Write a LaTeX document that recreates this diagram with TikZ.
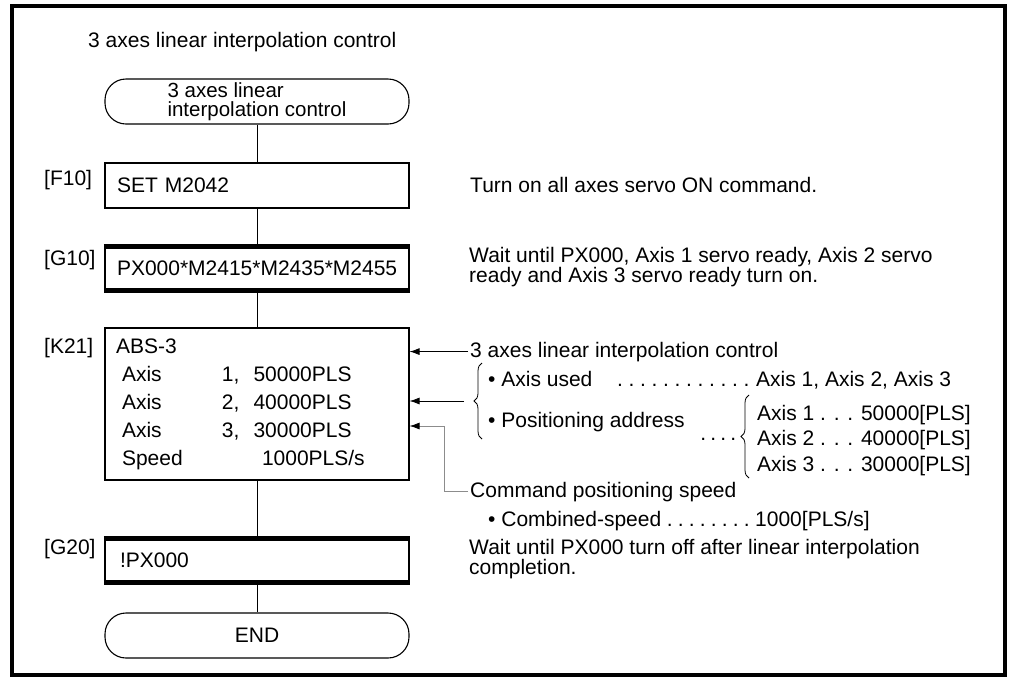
\documentclass[tikz,border=0pt]{standalone}
\usepackage{fontspec}
\setmainfont{Liberation Sans}
\usetikzlibrary{arrows.meta,decorations.pathreplacing,calc}
\newcommand{\bigtxt}{\fontsize{21}{20}\selectfont\lineskiplimit=-30pt\relax}
\newcommand{\dotrun}[2]{\hbox to #1{\leaders\hbox to #2{\hss.\hss}\hfill}}
\begin{document}
\begin{tikzpicture}[x=1pt,y=-1pt,
  every node/.style={inner sep=0pt},
  txt/.style={font=\bigtxt,align=left},
  flowbox/.style={draw,line width=1.1pt,minimum width=304pt,font=\bigtxt,align=left,inner ysep=0pt},
  term/.style={draw,line width=1.1pt,rounded corners=21pt,minimum width=304pt,minimum height=45pt,align=left},
  flow/.style={line width=0.8pt},
  arr/.style={line width=0.8pt,-{Latex[length=10pt,width=7pt]}},
  garr/.style={line width=0.8pt,draw=black!45,-{Latex[length=10pt,width=7pt,color=black]}},
  brc/.style={decorate,decoration={brace,amplitude=8pt},line width=0.8pt},
  bar/.style={line width=5pt}
]
\useasboundingbox (0,0) rectangle (1009,678);
\draw[line width=3.6pt] (12,6) rectangle (1005,675);

\node[txt,anchor=base west] (title) at (88,47) {3 axes linear interpolation control};

% flow chart
\node[term,font={\fontsize{20.5}{19.5}\selectfont\lineskiplimit=-30pt}] (start) at (257,101.5) {3 axes linear\\interpolation control};
\node[flowbox,minimum height=45pt,text width=280pt,inner xsep=12pt] (f10) at (257,185.5) {SET M2042};
\node[flowbox,minimum height=47pt,text width=280pt,inner xsep=12pt] (g10) at (257,268.5) {PX000*M2415*M2435*M2455};
\node[flowbox,minimum height=152pt,text width=282pt,inner xsep=11pt,font={\fontsize{21}{28}\selectfont}] (k21) at (257,404)
  {ABS-3\\
   \hspace*{6pt}\makebox[100pt][l]{Axis}1,~~50000PLS\\
   \hspace*{6pt}\makebox[100pt][l]{Axis}2,~~40000PLS\\
   \hspace*{6pt}\makebox[100pt][l]{Axis}3,~~30000PLS\\
   \hspace*{6pt}\makebox[140pt][l]{Speed}1000PLS/s};
\node[flowbox,minimum height=47pt,text width=274pt,inner xsep=15pt] (g20) at (257,560.5) {!PX000};
\node[term,align=center,font=\bigtxt] (end) at (257,635.5) {END};

\foreach \n in {g10,g20}{
  \draw[bar] ($(\n.north west)+(-0.55,2.5)$) -- ($(\n.north east)+(0.55,2.5)$);
  \draw[bar] ($(\n.south west)+(-0.55,-2.5)$) -- ($(\n.south east)+(0.55,-2.5)$);
}

\draw[flow] (start) -- (f10);
\draw[flow] (f10) -- (g10);
\draw[flow] (g10) -- (k21);
\draw[flow] (k21) -- (g20);
\draw[flow] (g20) -- (end);

% step labels
\node[txt,anchor=base west] (lf10) at (44,185.5) {[F10]};
\node[txt,anchor=base west] (lg10) at (44,265) {[G10]};
\node[txt,anchor=base west] (lk21) at (44,353) {[K21]};
\node[txt,anchor=base west] (lg20) at (44,554) {[G20]};

% comments
\node[txt,anchor=base west] (c1) at (470,192) {Turn on all axes servo ON command.};
\node[txt,anchor=north west] (c2) at (469,247.5) {Wait until PX000, Axis 1 servo ready, Axis 2 servo\\ready and Axis 3 servo ready turn on.};
\node[txt,anchor=base west] (c3) at (470,357) {3 axes linear interpolation control};
\draw[arr] ([xshift=-2pt]c3.west) -- (c3.west -| k21.east);

\draw[brc] (482,439) -- (482,363);
\coordinate (b1) at (464,401);
\draw[arr] (b1) -- (b1 -| k21.east);

\node[txt,anchor=base west] (au) at (488,386) {• Axis used};
\node[txt,anchor=base west] (aud) at (614,386) {\dotrun{138pt}{11.5pt}};
\node[txt,anchor=base west] (auv) at (756,386) {Axis 1, Axis 2, Axis 3};

\node[txt,anchor=base west] (pa) at (488,427.5) {• Positioning address};
\node[txt,anchor=base west] (pad) at (698,440) {\dotrun{40pt}{10pt}};
\draw[brc] (749,478) -- (749,395);
\node[txt,anchor=base west] (v1) at (757,420) {Axis 1 . . . 50000[PLS]};
\node[txt,anchor=base west] (v2) at (757,445.5) {Axis 2 . . . 40000[PLS]};
\node[txt,anchor=base west] (v3) at (757,471) {Axis 3 . . . 30000[PLS]};

\node[txt,anchor=base west] (cmd) at (470,497) {Command positioning speed};
\coordinate (g3) at (444,426);
\draw[garr] ([xshift=-2pt]cmd.west) -| (g3) -- (g3 -| k21.east);

\node[txt,anchor=base west] (cs) at (488,526) {• Combined-speed};
\node[txt,anchor=base west] (csd) at (664,526) {\dotrun{88pt}{11pt}};
\node[txt,anchor=base west] (csv) at (755,526) {1000[PLS/s]};

\node[txt,anchor=north west] (c5) at (469,539.5) {Wait until PX000 turn off after linear interpolation\\completion.};
\end{tikzpicture}
\end{document}
